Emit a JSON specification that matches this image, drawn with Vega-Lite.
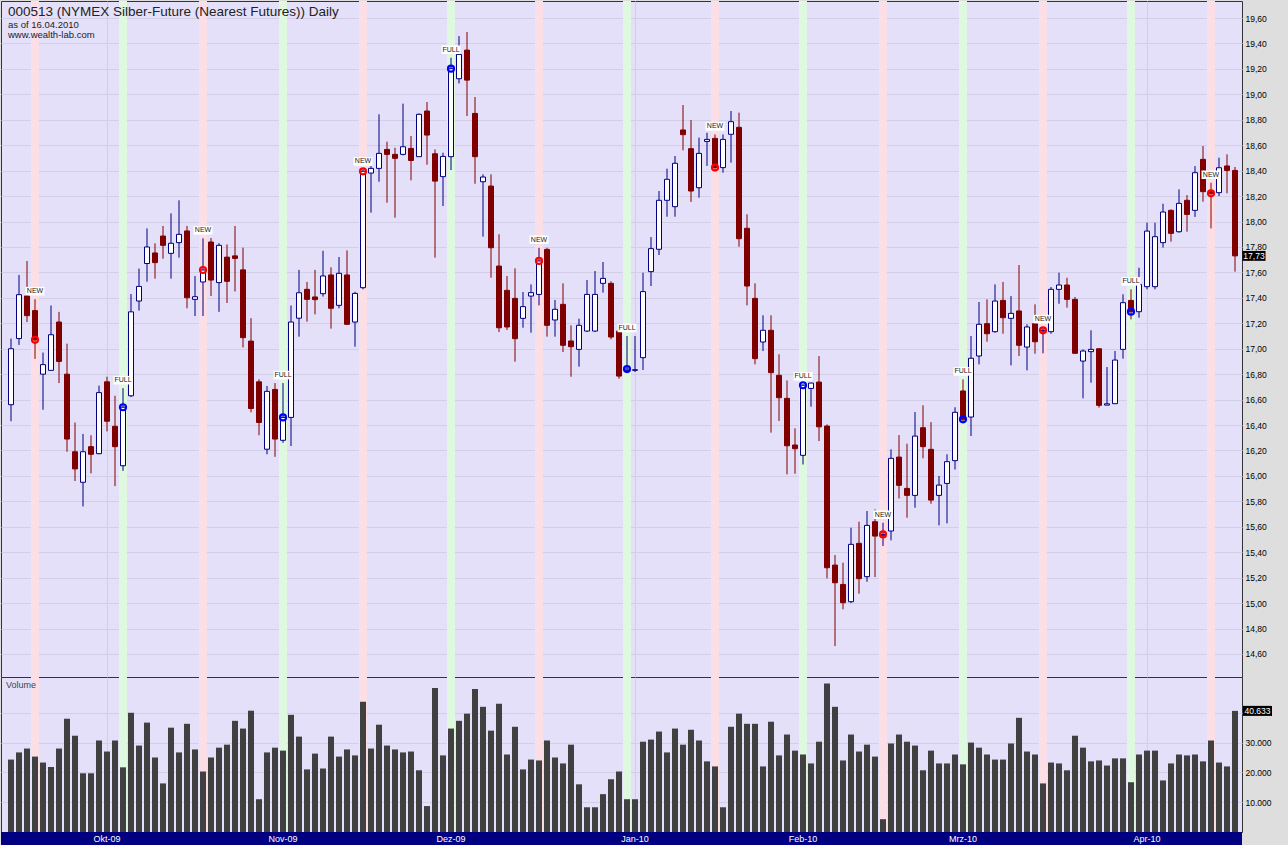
{
  "$schema": "https://vega.github.io/schema/vega-lite/v6.json",
  "padding": 0,
  "background": "#DEDEDE",
  "spacing": 0,
  "bounds": "flush",
  "config": {
    "locale": {"number": {"decimal": ",", "thousands": ".", "grouping": [3], "currency": ["", " €"]}},
    "view": {"fill": "#E4E0FA", "stroke": "#333333", "strokeWidth": 1},
    "axis": {"labelFont": "Liberation Sans", "labelFontSize": 8.5, "labelColor": "#000000", "gridColor": "#D2CEE6", "gridWidth": 1, "domain": false, "ticks": false, "title": null, "labelOverlap": false},
    "title": {"font": "Liberation Sans", "fontWeight": "normal", "color": "#222222", "subtitleFont": "Liberation Sans", "subtitleColor": "#222222"}
  },
  "datasets": {
    "bars": [
      {"i":0,"o":16.56,"h":17.08,"l":16.43,"c":17.0,"v":24300},
      {"i":1,"o":17.08,"h":17.58,"l":17.03,"c":17.425,"v":26700},
      {"i":2,"o":17.415,"h":17.69,"l":17.21,"c":17.26,"v":28000},
      {"i":3,"o":17.3,"h":17.39,"l":16.92,"c":17.07,"v":25300,"m":"NEW"},
      {"i":4,"o":16.8,"h":16.97,"l":16.52,"c":16.875,"v":23300},
      {"i":5,"o":16.83,"h":17.34,"l":16.83,"c":17.11,"v":21800},
      {"i":6,"o":17.21,"h":17.29,"l":16.73,"c":16.9,"v":28000},
      {"i":7,"o":16.8,"h":17.04,"l":16.19,"c":16.29,"v":38000},
      {"i":8,"o":16.19,"h":16.42,"l":15.96,"c":16.055,"v":32300},
      {"i":9,"o":15.95,"h":16.33,"l":15.76,"c":16.19,"v":19700},
      {"i":10,"o":16.23,"h":16.32,"l":16.02,"c":16.17,"v":19700},
      {"i":11,"o":16.175,"h":16.71,"l":16.17,"c":16.655,"v":30700},
      {"i":12,"o":16.74,"h":16.78,"l":16.35,"c":16.43,"v":27000,"ml":"Okt-09"},
      {"i":13,"o":16.39,"h":16.63,"l":15.92,"c":16.23,"v":30700},
      {"i":14,"o":16.08,"h":16.69,"l":16.04,"c":16.54,"v":21700,"m":"FULL"},
      {"i":15,"o":16.63,"h":17.43,"l":16.62,"c":17.29,"v":40000},
      {"i":16,"o":17.375,"h":17.63,"l":17.3,"c":17.49,"v":29000},
      {"i":17,"o":17.67,"h":17.946,"l":17.527,"c":17.8,"v":36700},
      {"i":18,"o":17.753,"h":17.829,"l":17.551,"c":17.677,"v":25000},
      {"i":19,"o":17.886,"h":17.965,"l":17.708,"c":17.813,"v":16300},
      {"i":20,"o":17.75,"h":18.064,"l":17.551,"c":17.829,"v":35000},
      {"i":21,"o":17.834,"h":18.167,"l":17.716,"c":17.899,"v":26700},
      {"i":22,"o":17.926,"h":17.965,"l":17.318,"c":17.401,"v":36300},
      {"i":23,"o":17.388,"h":17.572,"l":17.257,"c":17.409,"v":27700},
      {"i":24,"o":17.525,"h":17.868,"l":17.257,"c":17.619,"v":20300,"m":"NEW"},
      {"i":25,"o":17.839,"h":17.87,"l":17.415,"c":17.54,"v":25000},
      {"i":26,"o":17.52,"h":17.83,"l":17.29,"c":17.813,"v":28300},
      {"i":27,"o":17.72,"h":17.82,"l":17.36,"c":17.53,"v":29300},
      {"i":28,"o":17.73,"h":17.965,"l":17.45,"c":17.71,"v":37300},
      {"i":29,"o":17.62,"h":17.795,"l":17.01,"c":17.087,"v":34700},
      {"i":30,"o":17.06,"h":17.24,"l":16.5,"c":16.53,"v":40700},
      {"i":31,"o":16.74,"h":16.76,"l":16.32,"c":16.42,"v":11000},
      {"i":32,"o":16.21,"h":16.707,"l":16.17,"c":16.665,"v":26700},
      {"i":33,"o":16.68,"h":16.73,"l":16.15,"c":16.29,"v":28300},
      {"i":34,"o":16.28,"h":16.73,"l":16.26,"c":16.46,"v":27300,"m":"FULL","ml":"Nov-09"},
      {"i":35,"o":16.46,"h":17.34,"l":16.235,"c":17.21,"v":39300},
      {"i":36,"o":17.24,"h":17.62,"l":17.095,"c":17.44,"v":32000},
      {"i":37,"o":17.467,"h":17.525,"l":17.213,"c":17.388,"v":21000},
      {"i":38,"o":17.407,"h":17.62,"l":17.27,"c":17.386,"v":26300},
      {"i":39,"o":17.433,"h":17.77,"l":17.41,"c":17.572,"v":21300},
      {"i":40,"o":17.58,"h":17.64,"l":17.158,"c":17.318,"v":32000},
      {"i":41,"o":17.341,"h":17.721,"l":17.318,"c":17.593,"v":25300},
      {"i":42,"o":17.58,"h":17.773,"l":17.19,"c":17.192,"v":27700},
      {"i":43,"o":17.21,"h":17.448,"l":17.016,"c":17.435,"v":25700},
      {"i":44,"o":17.48,"h":18.41,"l":17.467,"c":18.395,"v":43700,"m":"NEW"},
      {"i":45,"o":18.381,"h":18.436,"l":18.07,"c":18.418,"v":28000},
      {"i":46,"o":18.418,"h":18.843,"l":18.313,"c":18.536,"v":36000},
      {"i":47,"o":18.567,"h":18.628,"l":18.148,"c":18.528,"v":29000},
      {"i":48,"o":18.528,"h":18.58,"l":18.03,"c":18.497,"v":27700},
      {"i":49,"o":18.528,"h":18.927,"l":18.52,"c":18.588,"v":26700},
      {"i":50,"o":18.575,"h":18.672,"l":18.324,"c":18.48,"v":27000},
      {"i":51,"o":18.51,"h":18.85,"l":18.51,"c":18.843,"v":20700},
      {"i":52,"o":18.869,"h":18.94,"l":18.447,"c":18.68,"v":8700},
      {"i":53,"o":18.533,"h":18.567,"l":17.716,"c":18.318,"v":48300},
      {"i":54,"o":18.353,"h":18.541,"l":18.122,"c":18.512,"v":25700},
      {"i":55,"o":18.51,"h":19.288,"l":18.405,"c":19.202,"v":34700,"m":"FULL","ml":"Dez-09"},
      {"i":56,"o":19.123,"h":19.458,"l":19.086,"c":19.314,"v":37300},
      {"i":57,"o":19.348,"h":19.49,"l":18.83,"c":19.112,"v":39700},
      {"i":58,"o":18.85,"h":18.979,"l":18.297,"c":18.51,"v":48000},
      {"i":59,"o":18.313,"h":18.371,"l":17.881,"c":18.35,"v":42000},
      {"i":60,"o":18.279,"h":18.371,"l":17.559,"c":17.794,"v":34000},
      {"i":61,"o":17.65,"h":17.9,"l":17.131,"c":17.165,"v":43000},
      {"i":62,"o":17.459,"h":17.572,"l":17.147,"c":17.171,"v":26000},
      {"i":63,"o":17.396,"h":17.632,"l":16.898,"c":17.079,"v":35300},
      {"i":64,"o":17.239,"h":17.446,"l":17.165,"c":17.331,"v":21000},
      {"i":65,"o":17.414,"h":17.506,"l":17.126,"c":17.441,"v":24300},
      {"i":66,"o":17.427,"h":17.794,"l":17.341,"c":17.69,"v":24000,"m":"NEW"},
      {"i":67,"o":17.781,"h":17.794,"l":17.095,"c":17.184,"v":30700},
      {"i":68,"o":17.226,"h":17.383,"l":17.095,"c":17.31,"v":25000},
      {"i":69,"o":17.349,"h":17.514,"l":16.974,"c":17.027,"v":23000},
      {"i":70,"o":17.061,"h":17.184,"l":16.78,"c":17.016,"v":29300},
      {"i":71,"o":16.995,"h":17.236,"l":16.859,"c":17.184,"v":16000},
      {"i":72,"o":17.139,"h":17.54,"l":17.131,"c":17.427,"v":8300},
      {"i":73,"o":17.139,"h":17.611,"l":17.131,"c":17.427,"v":8300},
      {"i":74,"o":17.514,"h":17.682,"l":17.441,"c":17.553,"v":12700},
      {"i":75,"o":17.514,"h":17.53,"l":17.074,"c":17.092,"v":17700},
      {"i":76,"o":17.139,"h":17.145,"l":16.764,"c":16.785,"v":20300},
      {"i":77,"o":16.83,"h":17.1,"l":16.82,"c":16.84,"v":11000,"m":"FULL"},
      {"i":78,"o":16.83,"h":17.1,"l":16.817,"c":16.835,"v":11000,"ml":"Jan-10"},
      {"i":79,"o":16.93,"h":17.598,"l":16.833,"c":17.449,"v":30300},
      {"i":80,"o":17.606,"h":17.878,"l":17.493,"c":17.787,"v":31000},
      {"i":81,"o":17.782,"h":18.24,"l":17.737,"c":18.167,"v":33700},
      {"i":82,"o":18.167,"h":18.416,"l":18.038,"c":18.332,"v":26700},
      {"i":83,"o":18.117,"h":18.515,"l":18.038,"c":18.458,"v":34700},
      {"i":84,"o":18.72,"h":18.916,"l":18.56,"c":18.683,"v":29300},
      {"i":85,"o":18.573,"h":18.798,"l":18.154,"c":18.24,"v":34300},
      {"i":86,"o":18.266,"h":18.66,"l":18.188,"c":18.536,"v":30700},
      {"i":87,"o":18.63,"h":18.698,"l":18.437,"c":18.646,"v":23700},
      {"i":88,"o":18.654,"h":18.685,"l":18.397,"c":18.424,"v":22000,"m":"NEW"},
      {"i":89,"o":18.424,"h":18.685,"l":18.384,"c":18.646,"v":8300},
      {"i":90,"o":18.686,"h":18.869,"l":18.463,"c":18.785,"v":35300},
      {"i":91,"o":18.741,"h":18.856,"l":17.802,"c":17.865,"v":39700},
      {"i":92,"o":17.947,"h":18.057,"l":17.341,"c":17.493,"v":36300},
      {"i":93,"o":17.396,"h":17.514,"l":16.877,"c":16.922,"v":36300},
      {"i":94,"o":17.053,"h":17.263,"l":16.982,"c":17.145,"v":22000},
      {"i":95,"o":17.145,"h":17.263,"l":16.34,"c":16.812,"v":37000},
      {"i":96,"o":16.791,"h":16.956,"l":16.432,"c":16.615,"v":25700},
      {"i":97,"o":16.61,"h":16.751,"l":16.012,"c":16.237,"v":32700},
      {"i":98,"o":16.243,"h":16.374,"l":16.017,"c":16.214,"v":27300},
      {"i":99,"o":16.162,"h":16.72,"l":16.09,"c":16.713,"v":26000,"m":"FULL","ml":"Feb-10"},
      {"i":100,"o":16.688,"h":16.733,"l":16.544,"c":16.73,"v":23000},
      {"i":101,"o":16.738,"h":16.942,"l":16.274,"c":16.386,"v":30300},
      {"i":102,"o":16.392,"h":16.405,"l":15.194,"c":15.278,"v":49800},
      {"i":103,"o":15.299,"h":15.378,"l":14.662,"c":15.16,"v":42000},
      {"i":104,"o":15.147,"h":15.318,"l":14.951,"c":15.003,"v":24000},
      {"i":105,"o":15.011,"h":15.593,"l":15.0,"c":15.462,"v":32700},
      {"i":106,"o":15.47,"h":15.64,"l":15.074,"c":15.192,"v":27000},
      {"i":107,"o":15.208,"h":15.724,"l":15.168,"c":15.611,"v":29300},
      {"i":108,"o":15.64,"h":15.737,"l":15.205,"c":15.527,"v":25300},
      {"i":109,"o":15.53,"h":15.632,"l":15.449,"c":15.54,"v":4300,"m":"NEW"},
      {"i":110,"o":15.567,"h":16.209,"l":15.493,"c":16.138,"v":29700},
      {"i":111,"o":16.148,"h":16.321,"l":15.823,"c":15.926,"v":32700},
      {"i":112,"o":15.902,"h":16.253,"l":15.671,"c":15.847,"v":30300},
      {"i":113,"o":15.847,"h":16.502,"l":15.75,"c":16.313,"v":29000},
      {"i":114,"o":16.379,"h":16.555,"l":16.138,"c":16.23,"v":20700},
      {"i":115,"o":16.209,"h":16.423,"l":15.781,"c":15.81,"v":27300},
      {"i":116,"o":15.847,"h":16.0,"l":15.611,"c":15.928,"v":23000},
      {"i":117,"o":15.941,"h":16.17,"l":15.627,"c":16.112,"v":23000},
      {"i":118,"o":16.12,"h":16.54,"l":16.05,"c":16.5,"v":26000},
      {"i":119,"o":16.668,"h":16.759,"l":16.42,"c":16.445,"v":22700,"m":"FULL","ml":"Mrz-10"},
      {"i":120,"o":16.463,"h":17.1,"l":16.314,"c":16.925,"v":30000},
      {"i":121,"o":16.943,"h":17.367,"l":16.877,"c":17.192,"v":28300},
      {"i":122,"o":17.197,"h":17.388,"l":17.055,"c":17.118,"v":26000},
      {"i":123,"o":17.134,"h":17.506,"l":17.126,"c":17.375,"v":24300},
      {"i":124,"o":17.38,"h":17.525,"l":17.118,"c":17.244,"v":24300},
      {"i":125,"o":17.239,"h":17.414,"l":16.869,"c":17.278,"v":29700},
      {"i":126,"o":17.297,"h":17.658,"l":16.943,"c":17.027,"v":38300},
      {"i":127,"o":17.013,"h":17.192,"l":16.83,"c":17.171,"v":27000},
      {"i":128,"o":17.197,"h":17.349,"l":16.961,"c":17.055,"v":26000},
      {"i":129,"o":17.14,"h":17.17,"l":16.964,"c":17.145,"v":16300,"m":"NEW"},
      {"i":130,"o":17.134,"h":17.485,"l":17.118,"c":17.467,"v":23300},
      {"i":131,"o":17.467,"h":17.598,"l":17.354,"c":17.501,"v":23000},
      {"i":132,"o":17.501,"h":17.558,"l":17.323,"c":17.388,"v":20700},
      {"i":133,"o":17.388,"h":17.407,"l":16.96,"c":16.964,"v":32300},
      {"i":134,"o":16.903,"h":16.995,"l":16.61,"c":16.982,"v":28300},
      {"i":135,"o":16.977,"h":17.145,"l":16.733,"c":16.995,"v":23700},
      {"i":136,"o":17.0,"h":17.0,"l":16.537,"c":16.555,"v":24000},
      {"i":137,"o":16.557,"h":16.856,"l":16.555,"c":16.567,"v":22300},
      {"i":138,"o":16.568,"h":16.982,"l":16.565,"c":16.911,"v":24700},
      {"i":139,"o":16.995,"h":17.428,"l":16.922,"c":17.362,"v":24700},
      {"i":140,"o":17.38,"h":17.467,"l":17.231,"c":17.291,"v":16700,"m":"FULL"},
      {"i":141,"o":17.291,"h":17.637,"l":17.244,"c":17.506,"v":26000},
      {"i":142,"o":17.488,"h":17.991,"l":17.467,"c":17.925,"v":27300,"ml":"Apr-10"},
      {"i":143,"o":17.488,"h":17.991,"l":17.467,"c":17.881,"v":27300},
      {"i":144,"o":17.834,"h":18.14,"l":17.795,"c":18.075,"v":17300},
      {"i":145,"o":18.088,"h":18.096,"l":17.842,"c":17.907,"v":23000},
      {"i":146,"o":17.92,"h":18.253,"l":17.912,"c":18.143,"v":26000},
      {"i":147,"o":18.167,"h":18.208,"l":17.92,"c":18.056,"v":25700},
      {"i":148,"o":18.088,"h":18.436,"l":18.036,"c":18.384,"v":26000},
      {"i":149,"o":18.489,"h":18.594,"l":18.156,"c":18.235,"v":23700},
      {"i":150,"o":18.24,"h":18.305,"l":17.946,"c":18.222,"v":30700,"m":"NEW"},
      {"i":151,"o":18.227,"h":18.502,"l":18.2,"c":18.423,"v":23300},
      {"i":152,"o":18.437,"h":18.528,"l":18.222,"c":18.402,"v":22000},
      {"i":153,"o":18.402,"h":18.429,"l":17.606,"c":17.73,"v":40633}
    ]
  },
  "vconcat": [
    {
      "width": 1241,
      "height": 676,
      "title": {"text": "000513 (NYMEX Silber-Future (Nearest Futures)) Daily", "subtitle": ["as of 16.04.2010", "www.wealth-lab.com"], "anchor": "start", "orient": "top", "frame": "group", "offset": -38.5, "dx": 7, "fontSize": 13.5, "subtitleFontSize": 9.5, "subtitleLineHeight": 10.5, "subtitlePadding": 1.5},
      "data": {"name": "bars"},
      "encoding": {
        "x": {"field": "i", "type": "quantitative", "scale": {"domain": [-1.25, 153.875], "nice": false, "zero": false, "padding": 0},
              "axis": {"values": [12, 34, 55, 78, 99, 119, 142], "grid": true, "labels": false, "domain": false, "ticks": false, "minExtent": 0, "maxExtent": 0}}
      },
      "layer": [
        {
          "transform": [{"filter": "datum.m"}],
          "mark": {"type": "tick", "thickness": 8, "size": 676, "opacity": 1, "orient": "vertical"},
          "encoding": {"color": {"condition": {"test": "datum.m == 'NEW'", "value": "#FCDFE6"}, "value": "#E0F8E0"}}
        },
        {
          "mark": {"type": "rule", "strokeWidth": 1},
          "encoding": {
            "y": {"field": "l", "type": "quantitative", "scale": {"domain": [14.419, 19.734], "nice": false, "zero": false, "padding": 0},
                  "axis": {"orient": "right", "values": [14.6,14.8,15.0,15.2,15.4,15.6,15.8,16.0,16.2,16.4,16.6,16.8,17.0,17.2,17.4,17.6,17.8,18.0,18.2,18.4,18.6,18.8,19.0,19.2,19.4,19.6], "tickCount": 40, "format": ".2f", "grid": true, "labelPadding": 3, "minExtent": 47, "maxExtent": 47}},
            "y2": {"field": "h"},
            "color": {"condition": {"test": "datum.c >= datum.o", "value": "#000080"}, "value": "#800000"}
          }
        },
        {
          "mark": {"type": "bar", "width": 5, "strokeWidth": 1},
          "encoding": {
            "y": {"field": "o", "type": "quantitative"},
            "y2": {"field": "c"},
            "fill": {"condition": {"test": "datum.c >= datum.o", "value": "#FFFFFF"}, "value": "#800000"},
            "stroke": {"condition": {"test": "datum.c >= datum.o", "value": "#000080"}, "value": "#800000"}
          }
        },
        {
          "transform": [{"filter": "datum.m"}],
          "mark": {"type": "point", "shape": "circle", "filled": false, "size": 36, "strokeWidth": 2.2, "opacity": 1},
          "encoding": {
            "y": {"field": "c", "type": "quantitative"},
            "stroke": {"condition": {"test": "datum.m == 'NEW'", "value": "#FF0000"}, "value": "#0000FF"}
          }
        },
        {
          "transform": [{"filter": "datum.m"}],
          "mark": {"type": "point", "shape": "M-1,-0.45H1V0.45H-1Z", "filled": true, "size": 361, "fill": "#FFFFFF", "opacity": 1, "strokeWidth": 0, "yOffset": -8},
          "encoding": {"y": {"field": "h", "type": "quantitative"}}
        },
        {
          "transform": [{"filter": "datum.m"}],
          "mark": {"type": "text", "font": "Liberation Sans", "fontSize": 7, "color": "#222222", "baseline": "middle", "align": "center", "yOffset": -8},
          "encoding": {"y": {"field": "h", "type": "quantitative"}, "text": {"field": "m"}}
        },
        {
          "transform": [{"filter": "datum.i == 153"}],
          "mark": {"type": "point", "shape": "M-1,-0.43H1V0.43H-1Z", "filled": true, "size": 529, "fill": "#000000", "opacity": 1, "strokeWidth": 0, "xOffset": 19},
          "encoding": {"y": {"field": "c", "type": "quantitative"}}
        },
        {
          "transform": [{"filter": "datum.i == 153"}],
          "mark": {"type": "text", "font": "Liberation Sans", "fontSize": 8.5, "color": "#FFFFFF", "baseline": "middle", "align": "center", "xOffset": 19},
          "encoding": {"y": {"field": "c", "type": "quantitative"}, "text": {"field": "c", "type": "quantitative", "format": ".2f"}}
        }
      ]
    },
    {
      "width": 1241,
      "height": 155,
      "title": {"text": "Volume", "anchor": "start", "orient": "top", "frame": "group", "offset": -13, "dx": 5, "fontSize": 9, "color": "#444444"},
      "data": {"name": "bars"},
      "encoding": {
        "x": {"field": "i", "type": "quantitative", "scale": {"domain": [-1.25, 153.875], "nice": false, "zero": false, "padding": 0},
              "axis": {"values": [12, 34, 55, 78, 99, 119, 142], "grid": true, "labels": false, "domain": false, "ticks": false, "minExtent": 0, "maxExtent": 0}}
      },
      "layer": [
        {
          "transform": [{"filter": "datum.m"}],
          "mark": {"type": "tick", "thickness": 8, "size": 155, "opacity": 1, "orient": "vertical"},
          "encoding": {"color": {"condition": {"test": "datum.m == 'NEW'", "value": "#FCDFE6"}, "value": "#E0F8E0"}}
        },
        {
          "mark": {"type": "bar", "width": 6, "color": "#404040"},
          "encoding": {
            "y": {"field": "v", "type": "quantitative", "scale": {"domain": [0, 52000], "nice": false, "padding": 0},
                  "axis": {"orient": "right", "values": [10000, 20000, 30000, 40000], "format": ",d", "labelExpr": "datum.value == 40000 ? '' : datum.label", "grid": true, "labelPadding": 3, "minExtent": 47, "maxExtent": 47}}
          }
        },
        {
          "transform": [{"filter": "datum.i == 153"}],
          "mark": {"type": "point", "shape": "M-1,-0.345H1V0.345H-1Z", "filled": true, "size": 841, "fill": "#000000", "opacity": 1, "strokeWidth": 0, "xOffset": 22.5},
          "encoding": {"y": {"field": "v", "type": "quantitative"}}
        },
        {
          "transform": [{"filter": "datum.i == 153"}],
          "mark": {"type": "text", "font": "Liberation Sans", "fontSize": 8.5, "color": "#FFFFFF", "baseline": "middle", "align": "center", "xOffset": 22.5},
          "encoding": {"y": {"field": "v", "type": "quantitative"}, "text": {"field": "v", "type": "quantitative", "format": ",d"}}
        }
      ]
    },
    {
      "width": 1241,
      "height": 14,
      "view": {"fill": "#000080", "stroke": null},
      "data": {"name": "bars"},
      "transform": [{"filter": "datum.ml"}],
      "mark": {"type": "text", "font": "Liberation Sans", "fontSize": 9, "color": "#FFFFFF", "baseline": "middle", "align": "center"},
      "encoding": {
        "x": {"field": "i", "type": "quantitative", "scale": {"domain": [-1.25, 153.875], "nice": false, "zero": false, "padding": 0}, "axis": null},
        "text": {"field": "ml"}
      }
    }
  ]
}
